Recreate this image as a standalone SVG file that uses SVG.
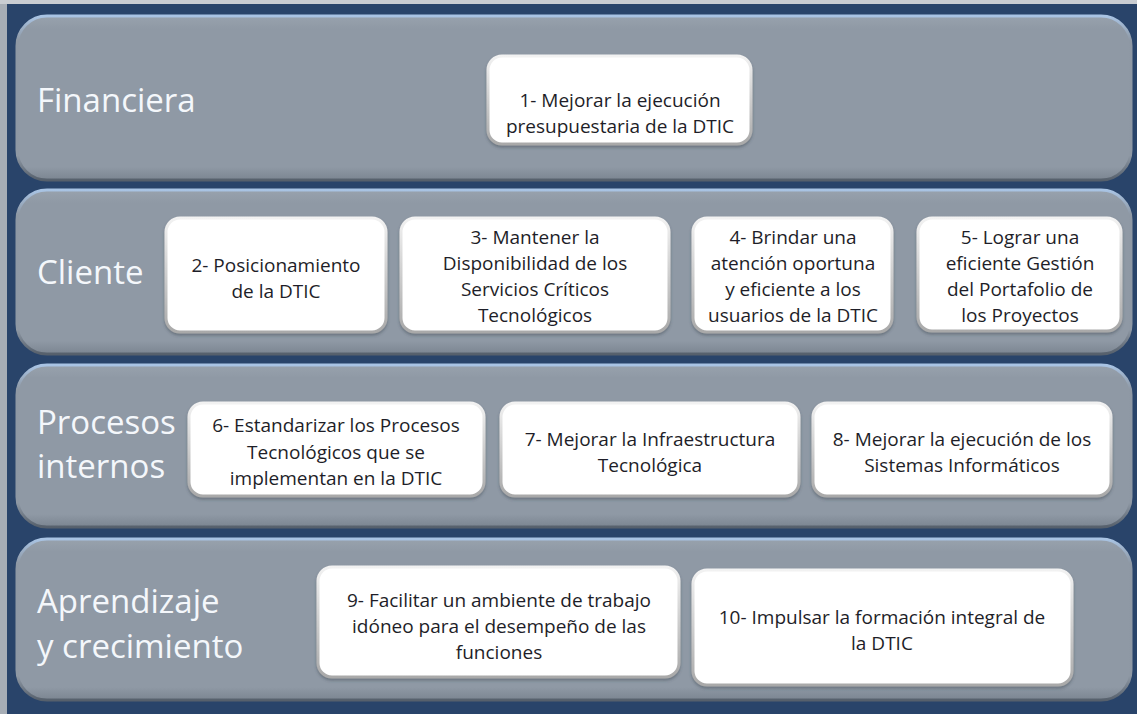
<svg xmlns="http://www.w3.org/2000/svg" width="1137" height="714" viewBox="0 0 1137 714">
<defs>
<linearGradient id="bandStroke" x1="0" y1="0" x2="0" y2="1">
<stop offset="0" stop-color="#a9c4e4"/>
<stop offset="0.15" stop-color="#8e98a4"/>
<stop offset="0.85" stop-color="#8e98a4"/>
<stop offset="1" stop-color="#56606c"/>
</linearGradient>
<linearGradient id="bandFill" x1="0" y1="0" x2="0" y2="1">
<stop offset="0" stop-color="#98a2ad"/>
<stop offset="0.08" stop-color="#8f99a5"/>
<stop offset="0.92" stop-color="#8f99a5"/>
<stop offset="1" stop-color="#7b8591"/>
</linearGradient>
<linearGradient id="boxStroke" x1="0" y1="0" x2="0" y2="1">
<stop offset="0" stop-color="#f2f2f2"/>
<stop offset="1" stop-color="#a9a9a9"/>
</linearGradient>
<filter id="sh" x="-10%" y="-10%" width="120%" height="130%">
<feDropShadow dx="0" dy="2" stdDeviation="1.5" flood-color="#3a4550" flood-opacity="0.45"/>
</filter>
</defs>
<style>
.band{fill:url(#bandFill);stroke:url(#bandStroke);stroke-width:3}
.box{fill:#ffffff;stroke:url(#boxStroke);stroke-width:3;filter:url(#sh)}
.lbl{font-family:"Open Sans","Liberation Sans",sans-serif;font-size:33px;fill:#f4f7fb}
.t{font-family:"Open Sans","Liberation Sans",sans-serif;font-size:19px;fill:#1e1e28;text-anchor:middle}
</style>
<rect x="0" y="0" width="1137" height="714" fill="#29446a"/>
<rect x="0" y="0" width="7" height="714" fill="#a7aeb6"/>
<rect x="0" y="0" width="1137" height="4" fill="#c9cdd2"/>

<g id="band-financiera">
<rect class="band" x="17" y="16" width="1114" height="164" rx="30"/>
<text class="lbl" x="37" y="112">Financiera</text>
</g>
<g id="band-cliente">
<rect class="band" x="17" y="190" width="1114" height="164" rx="30"/>
<text class="lbl" x="37" y="284">Cliente</text>
</g>
<g id="band-procesos">
<rect class="band" x="17" y="365" width="1114" height="162" rx="30"/>
<text class="lbl" x="37" y="434">Procesos</text>
<text class="lbl" x="37" y="478">internos</text>
</g>
<g id="band-aprendizaje">
<rect class="band" x="17" y="539" width="1114" height="161" rx="30"/>
<text class="lbl" x="37" y="613">Aprendizaje</text>
<text class="lbl" x="37" y="658">y crecimiento</text>
</g>

<g id="connectors"></g>

<g id="n1">
<rect class="box" x="488" y="56" width="263" height="88" rx="14"/>
<text class="t" x="620" y="107">1- Mejorar la ejecución</text>
<text class="t" x="620" y="133">presupuestaria de la DTIC</text>
</g>
<g id="n2">
<rect class="box" x="166" y="218" width="220" height="114" rx="14"/>
<text class="t" x="276" y="272">2- Posicionamiento</text>
<text class="t" x="276" y="298">de la DTIC</text>
</g>
<g id="n3">
<rect class="box" x="401" y="218" width="268" height="114" rx="14"/>
<text class="t" x="535" y="244">3- Mantener la</text>
<text class="t" x="535" y="270">Disponibilidad  de los</text>
<text class="t" x="535" y="296">Servicios  Críticos</text>
<text class="t" x="535" y="322">Tecnológicos</text>
</g>
<g id="n4">
<rect class="box" x="693" y="218" width="199" height="114" rx="14"/>
<text class="t" x="793" y="244">4- Brindar una</text>
<text class="t" x="793" y="270">atención oportuna</text>
<text class="t" x="793" y="296">y eficiente a los</text>
<text class="t" x="793" y="322">usuarios  de la DTIC</text>
</g>
<g id="n5">
<rect class="box" x="918" y="218" width="203" height="113" rx="14"/>
<text class="t" x="1020" y="244">5- Lograr una</text>
<text class="t" x="1020" y="270">eficiente Gestión</text>
<text class="t" x="1020" y="296">del Portafolio de</text>
<text class="t" x="1020" y="322">los Proyectos</text>
</g>
<g id="n6">
<rect class="box" x="189" y="403" width="295" height="93" rx="14"/>
<text class="t" x="336" y="432">6- Estandarizar los Procesos</text>
<text class="t" x="336" y="459">Tecnológicos  que se</text>
<text class="t" x="336" y="485">implementan  en la DTIC</text>
</g>
<g id="n7">
<rect class="box" x="501" y="403" width="298" height="93" rx="14"/>
<text class="t" x="650" y="446">7- Mejorar la Infraestructura</text>
<text class="t" x="650" y="472">Tecnológica</text>
</g>
<g id="n8">
<rect class="box" x="813" y="403" width="298" height="93" rx="14"/>
<text class="t" x="962" y="446">8- Mejorar la ejecución de los</text>
<text class="t" x="962" y="472">Sistemas Informáticos</text>
</g>
<g id="n9">
<rect class="box" x="318" y="567" width="361" height="110" rx="14"/>
<text class="t" x="499" y="607">9- Facilitar un ambiente de trabajo</text>
<text class="t" x="499" y="633">idóneo  para el desempeño de las</text>
<text class="t" x="499" y="659">funciones</text>
</g>
<g id="n10">
<rect class="box" x="693" y="570" width="379" height="115" rx="14"/>
<text class="t" x="882" y="624">10- Impulsar la formación integral de</text>
<text class="t" x="882" y="650">la DTIC</text>
</g>
</svg>
